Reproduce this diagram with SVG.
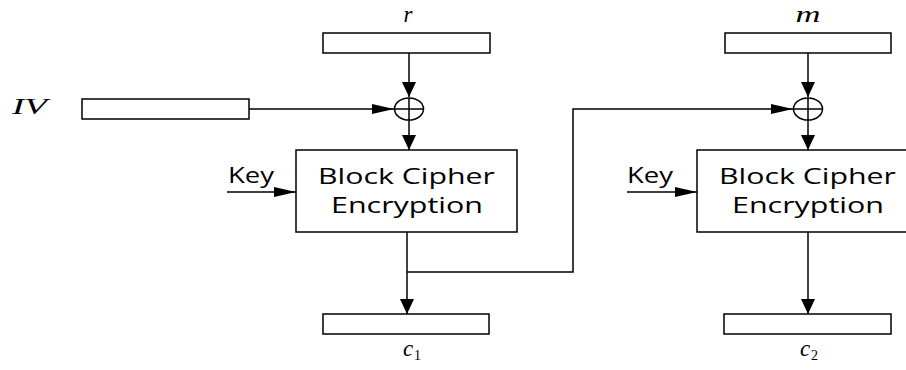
<svg xmlns="http://www.w3.org/2000/svg" width="906" height="370" viewBox="0 0 906 370">
<style>
.box{fill:#fff;stroke:#000;stroke-width:1.5}
.ln{fill:none;stroke:#000;stroke-width:1.5}
.var{font-family:"Liberation Serif",serif;font-style:italic;font-size:23px;fill:#000}
.sub{font-family:"Liberation Serif",serif;font-size:14px;fill:#000}
.lbl{font-family:"Open Sans","Liberation Sans",sans-serif;font-size:21px;fill:#000}
.key{font-family:"Open Sans","Liberation Sans",sans-serif;font-size:21px;fill:#000}
</style>
<defs>
<marker id="av" viewBox="0 0 15 14" refX="15" refY="7" markerWidth="15" markerHeight="14" markerUnits="userSpaceOnUse" orient="auto">
<path d="M0,0 L15,7 L0,14 z" fill="#000"/>
</marker>
<marker id="ah" viewBox="0 0 22 10" refX="22" refY="5" markerWidth="22" markerHeight="10" markerUnits="userSpaceOnUse" orient="auto">
<path d="M0,0 L22,5 L0,10 z" fill="#000"/>
</marker>
</defs>
<rect width="906" height="370" fill="#fff"/>
<g id="connectors">
<line class="ln" x1="409" y1="53" x2="409" y2="97" marker-end="url(#av)"/>
<line class="ln" x1="249" y1="109" x2="394" y2="109" marker-end="url(#ah)"/>
<line class="ln" x1="409" y1="120" x2="409" y2="150" marker-end="url(#av)"/>
<line class="ln" x1="227" y1="192" x2="296" y2="192" marker-end="url(#ah)"/>
<line class="ln" x1="407" y1="232" x2="407" y2="314" marker-end="url(#av)"/>
<polyline class="ln" points="407,272 573,272 573,109 793,109" marker-end="url(#ah)"/>
<line class="ln" x1="808" y1="53" x2="808" y2="97" marker-end="url(#av)"/>
<line class="ln" x1="808" y1="120" x2="808" y2="150" marker-end="url(#av)"/>
<line class="ln" x1="627" y1="192" x2="697" y2="192" marker-end="url(#ah)"/>
<line class="ln" x1="808" y1="232" x2="808" y2="314" marker-end="url(#av)"/>
</g>
<g id="r">
<rect class="box" x="323" y="33" width="167" height="20"/>
<text class="var" x="408" y="22" text-anchor="middle">r</text>
</g>
<g id="iv">
<rect class="box" x="82" y="99" width="167" height="20"/>
<text class="var" x="12" y="114" textLength="35" lengthAdjust="spacingAndGlyphs">IV</text>
</g>
<g id="xor1">
<ellipse class="ln" cx="409" cy="109" rx="14.5" ry="11"/>
<line class="ln" x1="394.5" y1="109" x2="423.5" y2="109"/>
<line class="ln" x1="409" y1="98" x2="409" y2="120"/>
</g>
<g id="block1">
<rect class="box" x="296" y="150" width="221" height="82"/>
<text class="lbl" x="318" y="184" textLength="177" lengthAdjust="spacingAndGlyphs">Block Cipher</text>
<text class="lbl" x="331" y="213" textLength="152" lengthAdjust="spacingAndGlyphs">Encryption</text>
</g>
<g id="key1">
<text class="key" x="228" y="183" textLength="46" lengthAdjust="spacingAndGlyphs">Key</text>
</g>
<g id="c1">
<rect class="box" x="323" y="314" width="166" height="20"/>
<text class="var" x="403" y="356">c</text>
<text class="sub" x="414" y="360">1</text>
</g>
<g id="m">
<rect class="box" x="725" y="33" width="166" height="20"/>
<text class="var" x="808" y="22" text-anchor="middle" textLength="25" lengthAdjust="spacingAndGlyphs">m</text>
</g>
<g id="xor2">
<ellipse class="ln" cx="808" cy="109" rx="14.5" ry="11"/>
<line class="ln" x1="793.5" y1="109" x2="822.5" y2="109"/>
<line class="ln" x1="808" y1="98" x2="808" y2="120"/>
</g>
<g id="block2">
<rect class="box" x="697" y="150" width="221" height="82"/>
<text class="lbl" x="719" y="184" textLength="177" lengthAdjust="spacingAndGlyphs">Block Cipher</text>
<text class="lbl" x="732" y="213" textLength="152" lengthAdjust="spacingAndGlyphs">Encryption</text>
</g>
<g id="key2">
<text class="key" x="627" y="183" textLength="46" lengthAdjust="spacingAndGlyphs">Key</text>
</g>
<g id="c2">
<rect class="box" x="724" y="314" width="167" height="20"/>
<text class="var" x="800" y="356">c</text>
<text class="sub" x="811" y="360">2</text>
</g>
</svg>
